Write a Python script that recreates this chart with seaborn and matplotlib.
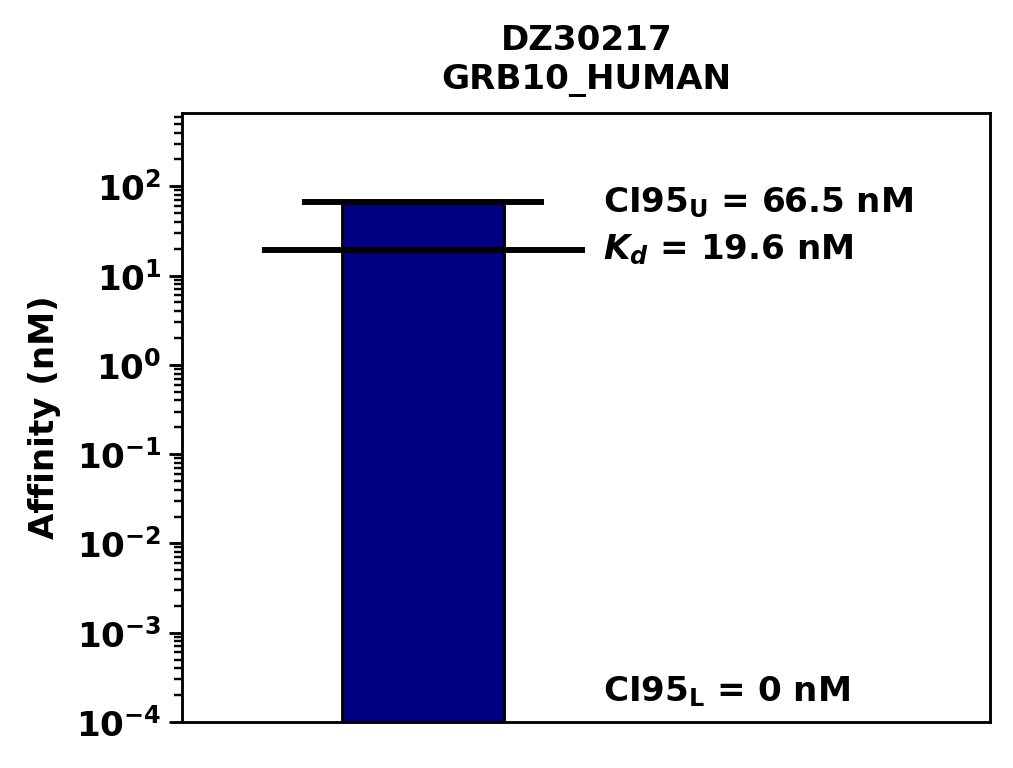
import numpy as np
import seaborn as sns
import matplotlib.pyplot as plt

# values
compound = "DZ30217"
target = "GRB10_HUMAN"
kd = 19.6
ci95_upper = 66.5
ci95_lower = 0

fs = 15.5

fig = plt.figure(figsize=(6.4, 768 / 158.4), dpi=158.4)
ax = fig.add_axes([0.180, 0.060, 0.797, 0.793])
ax.set_yscale("log")

sns.barplot(x=[target], y=[ci95_upper], color="navy", edgecolor="black",
            linewidth=1.3, width=0.4, saturation=1, ax=ax)

ax.hlines(ci95_upper, -0.3, 0.3, color="black", linewidth=2.7)
ax.hlines(kd, -0.4, 0.4, color="black", linewidth=2.7)

ax.set_xlim(-0.596, 1.404)
ax.set_ylim(1e-4, ci95_upper * 10)

ax.text(0.445, ci95_upper, r"CI95$_\mathbf{U}$ = %.1f nM" % ci95_upper,
        fontsize=fs, fontweight="bold", va="center")
ax.text(0.445, kd, r"$\mathbfit{K_d}$ = %.1f nM" % kd,
        fontsize=fs, fontweight="bold", va="center")
ax.text(0.445, 2.2e-4, r"CI95$_\mathbf{L}$ = %d nM" % ci95_lower,
        fontsize=fs, fontweight="bold", va="center")

ax.set_xticks([])
ax.set_xlabel("")
ax.set_ylabel("Affinity (nM)", fontsize=fs, fontweight="bold", labelpad=7)
ax.set_title(f"{compound}\n{target}", fontsize=fs, fontweight="bold", pad=11)
for lbl in ax.get_yticklabels():
    lbl.set_fontweight("bold")
ax.tick_params(axis="y", which="major", labelsize=fs, length=6, width=1.3)
ax.tick_params(axis="y", which="minor", length=3.5, width=1.1)
for s in ax.spines.values():
    s.set_linewidth(1.3)

fig.savefig("out.png", dpi=158.4)
